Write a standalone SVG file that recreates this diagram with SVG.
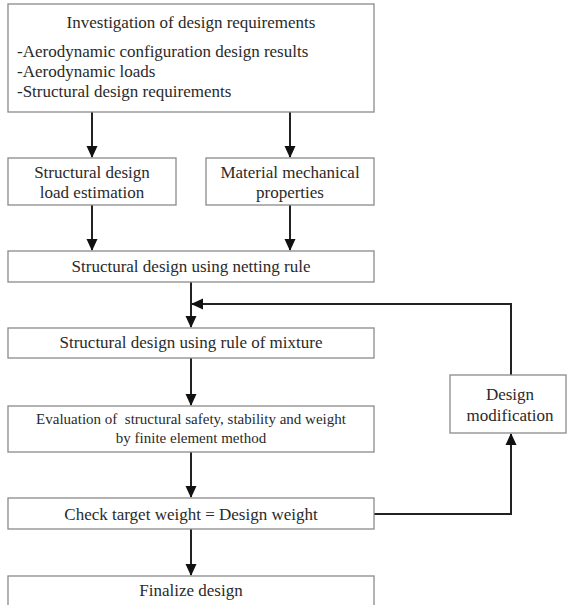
<svg xmlns="http://www.w3.org/2000/svg" width="567" height="605" viewBox="0 0 567 605">
<style>
.box{fill:#fff;stroke:#8a8a8a;stroke-width:1.3}
.t{font-family:"Liberation Serif","Times New Roman",serif;font-size:17px;fill:#2a2a2a;white-space:pre}
.s{font-size:15px}
.c{text-anchor:middle}
.ln{fill:none;stroke:#222;stroke-width:2}
</style>
<defs>
<marker id="ah" markerWidth="12" markerHeight="12" refX="11" refY="6" orient="auto" markerUnits="userSpaceOnUse">
<path d="M0,0.5 L12,6 L0,11.5 Z" fill="#111"/>
</marker>
</defs>
<rect width="567" height="605" fill="#fff"/>
<g id="connectors">
<line class="ln" x1="92" y1="112" x2="92" y2="157" marker-end="url(#ah)"/>
<line class="ln" x1="290" y1="112" x2="290" y2="157" marker-end="url(#ah)"/>
<line class="ln" x1="92" y1="205" x2="92" y2="250" marker-end="url(#ah)"/>
<line class="ln" x1="290" y1="205" x2="290" y2="250" marker-end="url(#ah)"/>
<line class="ln" x1="191" y1="282" x2="191" y2="327" marker-end="url(#ah)"/>
<line class="ln" x1="191" y1="358" x2="191" y2="405" marker-end="url(#ah)"/>
<line class="ln" x1="191" y1="452" x2="191" y2="497" marker-end="url(#ah)"/>
<line class="ln" x1="191" y1="529" x2="191" y2="575" marker-end="url(#ah)"/>
<polyline class="ln" points="374,514 511,514 511,434" marker-end="url(#ah)"/>
<polyline class="ln" points="511,375 511,304 192,304" marker-end="url(#ah)"/>
</g>
<g id="n-investigation">
<rect class="box" x="8" y="4" width="366" height="108"/>
<text class="t c" x="191" y="28">Investigation of design requirements</text>
<text class="t" x="17" y="57">-Aerodynamic configuration design results</text>
<text class="t" x="17" y="77">-Aerodynamic loads</text>
<text class="t" x="17" y="97">-Structural design requirements</text>
</g>
<g id="n-load">
<rect class="box" x="8" y="158" width="168" height="47"/>
<text class="t c" x="92" y="178">Structural design</text>
<text class="t c" x="92" y="198">load estimation</text>
</g>
<g id="n-material">
<rect class="box" x="206" y="158" width="168" height="47"/>
<text class="t c" x="290" y="178">Material mechanical</text>
<text class="t c" x="290" y="198">properties</text>
</g>
<g id="n-netting">
<rect class="box" x="8" y="251" width="366" height="31"/>
<text class="t c" x="191" y="272">Structural design using netting rule</text>
</g>
<g id="n-mixture">
<rect class="box" x="8" y="328" width="366" height="30"/>
<text class="t c" x="191" y="348">Structural design using rule of mixture</text>
</g>
<g id="n-evaluation">
<rect class="box" x="8" y="406" width="366" height="46"/>
<text class="t s c" x="191" y="424">Evaluation of  structural safety, stability and weight</text>
<text class="t s c" x="191" y="443">by finite element method</text>
</g>
<g id="n-check">
<rect class="box" x="8" y="498" width="366" height="31"/>
<text class="t c" x="191" y="520">Check target weight = Design weight</text>
</g>
<g id="n-finalize">
<rect class="box" x="8" y="576" width="366" height="40"/>
<text class="t c" x="191" y="596">Finalize design</text>
</g>
<g id="n-modification">
<rect class="box" x="450" y="375" width="116" height="58"/>
<text class="t c" x="510" y="400">Design</text>
<text class="t c" x="510" y="421">modification</text>
</g>
</svg>
